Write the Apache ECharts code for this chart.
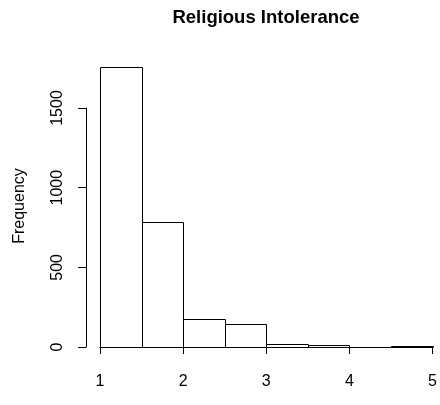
<!DOCTYPE html>
<html>
<head>
<meta charset="utf-8">
<script src="https://cdn.jsdelivr.net/npm/echarts@6/dist/echarts.min.js"></script>
<style>html,body{margin:0;padding:0;background:#fff}#c{width:440px;height:405px}</style>
</head>
<body>
<div id="c"></div>
<script>
var binStarts = [1, 1.5, 2, 2.5, 3, 3.5, 4, 4.5];
var binEnds = [1.5, 2, 2.5, 3, 3.5, 4, 4.5, 5];
var frequencies = [1759, 783, 178, 144, 16, 14, 0, 4];
var xTicks = [1, 2, 3, 4, 5];
var yTicks = [0, 500, 1000, 1500];

var data = binStarts.map(function (s, i) { return [s, binEnds[i], frequencies[i]]; });
var chart = echarts.init(document.getElementById('c'));
var font = 'Liberation Sans, Arial, sans-serif';
chart.setOption({
  animation: false,
  title: {
    text: 'Religious Intolerance',
    left: 266, top: 8, textAlign: 'center', padding: 0,
    textStyle: { fontFamily: font, fontWeight: 'bold', fontSize: 18.5, color: '#000' }
  },
  graphic: [{
    type: 'text', x: 20, y: 206, rotation: Math.PI / 2,
    style: { text: 'Frequency', fontFamily: font, fontSize: 16, fill: '#000', align: 'center', verticalAlign: 'middle' }
  }],
  grid: { left: 100, right: 7, top: 108, bottom: 58 },
  xAxis: {
    type: 'value', min: xTicks[0], max: xTicks[xTicks.length - 1], interval: 1,
    offset: 13,
    axisLine: { show: true, lineStyle: { color: '#000', width: 1 } },
    axisTick: { show: true, length: 7, lineStyle: { color: '#000' } },
    axisLabel: { margin: 14, color: '#000', fontFamily: font, fontSize: 16, formatter: function (v) { return String(v); } },
    splitLine: { show: false }
  },
  yAxis: {
    type: 'value', min: yTicks[0], max: yTicks[yTicks.length - 1], interval: 500,
    offset: 14,
    axisLine: { show: true, lineStyle: { color: '#000', width: 1 } },
    axisTick: { show: true, length: 8, lineStyle: { color: '#000' } },
    axisLabel: { rotate: 90, margin: 20, color: '#000', fontFamily: font, fontSize: 16, formatter: function (v) { return String(v); } },
    splitLine: { show: false }
  },
  series: [{
    type: 'custom',
    clip: false,
    data: data,
    encode: { x: [0, 1], y: 2 },
    renderItem: function (params, api) {
      var p0 = api.coord([api.value(0), 0]);
      var p1 = api.coord([api.value(1), api.value(2)]);
      return {
        type: 'rect',
        shape: { x: Math.round(p0[0]) + 0.5, y: Math.round(p1[1]) + 0.5, width: Math.round(p1[0]) - Math.round(p0[0]), height: Math.round(p0[1]) - Math.round(p1[1]) },
        style: { fill: '#fff', stroke: '#000', lineWidth: 1 }
      };
    }
  }]
});
</script>
</body>
</html>
